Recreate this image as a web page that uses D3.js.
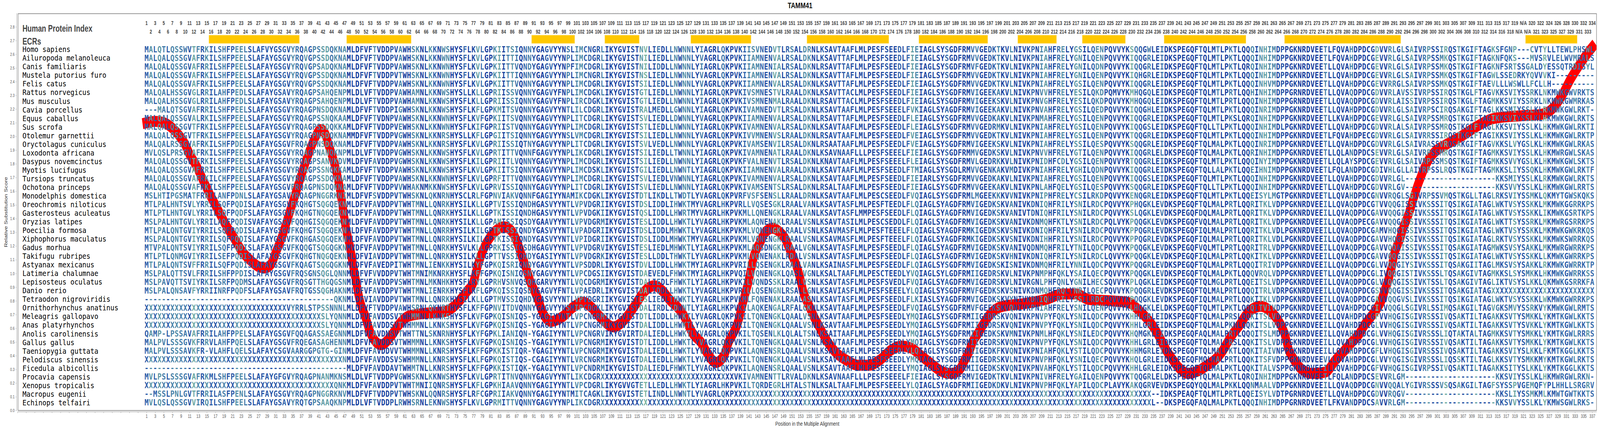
<!DOCTYPE html>
<html>
<head>
<meta charset="utf-8">
<script src="https://cdn.jsdelivr.net/npm/d3@7"></script>
<style>
  html, body { margin: 0; padding: 0; background: #fff; overflow: hidden; }
  #chart { display: block; width: 100vw; height: 100vh; }
  .axis text { font-family: "Liberation Sans", Arial, sans-serif; }
</style>
</head>
<body>
<svg id="chart" viewBox="0 0 5492 1100" preserveAspectRatio="none"></svg>
<script>
// Alignment of TAMM41 orthologs with relative substitution score overlay

const species = [
  "Homo sapiens", "Ailuropoda melanoleuca", "Canis familiaris", "Mustela putorius furo",
  "Felis catus", "Rattus norvegicus", "Mus musculus", "Cavia porcellus", "Equus caballus",
  "Sus scrofa", "Otolemur garnettii", "Oryctolagus cuniculus", "Loxodonta africana",
  "Dasypus novemcinctus", "Myotis lucifugus", "Tursiops truncatus", "Ochotona princeps",
  "Monodelphis domestica", "Oreochromis niloticus", "Gasterosteus aculeatus", "Oryzias latipes",
  "Poecilia formosa", "Xiphophorus maculatus", "Gadus morhua", "Takifugu rubripes",
  "Astyanax mexicanus", "Latimeria chalumnae", "Lepisosteus oculatus", "Danio rerio",
  "Tetraodon nigroviridis", "Ornithorhynchus anatinus", "Meleagris gallopavo",
  "Anas platyrhynchos", "Anolis carolinensis", "Gallus gallus", "Taeniopygia guttata",
  "Pelodiscus sinensis", "Ficedula albicollis", "Procavia capensis", "Xenopus tropicalis",
  "Macropus eugenii", "Echinops telfairi"
];

// alignment columns 1-41 (runs written as letter+count, e.g. X41)
const block1 = [
  "MALQTLQSSWVTFRKILSHFPEELSLAFVYGSGVYRQAGPS",
  "MALQALQSSGVAFRKILSHFPEELSLAFAYGSGVYRQVGPS",
  "MALQALQSSGVAFRRILSHFPEELSLAFAYGSGVYRQVGPS",
  "MALQALQSSGVAFRKILSHFPEELSLAFAYGSGVYRQVGPS",
  "MALQALQSSGVAFRKILSHFPEELSLAFAYGSGVYRQVGPS",
  "MALQALHSSGVGLRRILAHFPEDLSLAFAYGSAVYRQAGPS",
  "MALQALHSSGVGLRRILAHFPEDLSLAFAYGSAVYRQAGPS",
  "---MALQTSGVAFRRILSHFPEELSLAFAYGSGVYRQAGPN",
  "MALQALQSSGVALRKILSHFPEELSLAFAYGSGVYRQAGPS",
  "MALQALQSSGVTFRKILSHFPEELSLAFAYGSGVYRQAGPS",
  "MALQALQSSGVTFRKILSHFPEELSLAFAYGSGVYRQAGPN",
  "MALQALRSSGVAFRKILSHFPDELSLAFAYGSGVFRQAGPN",
  "MVLQSLPRSGVAFRKILSHFPEELSLAFAYGSGVYRQAGPN",
  "MALQALQSSGVTFRKILSHFPEELSLAFAYGSGVYRQAGPS",
  "MALQALQSSGVAFRRILSHFPEELSLAFAYGSGVYRQAGPS",
  "MALQALQSSGVAFRKILCHFPEELSLAFAYGSGVYRQAGPS",
  "MALQALQSSGVAFRKILSHFPEELSLAFAYGSGVFRQAGPN",
  "MSLHTIPGSMATFRRILANFPDNLSLAFAYGSAVYRQAGPN",
  "MTLPALHNTSVLYRRILSQFPQDISLAFAYGSGVFKQHGTS",
  "MTLPTLHNTGVLYRRILSQFPQDFSLAFAYGSGVFKQHGTN",
  "MSLPALHNTGVLYRRILAQFPQDISVAFAYGSGVFQQHGIS",
  "MTLPALQNTGVIYRRILSQFPQDISLAFAYGSGVFKQHGTS",
  "MSLPALQNTGVIYRRILSQFPQDISLAFAYGSGVFKQHGAS",
  "MTVPALQNTSVIYRRILSQFPQDISLAFAYGSGVFKQQGTS",
  "MTLPTLQNMGVIYRRILSEFPQDISLAFAYGSGVFKQHGTN",
  "MTLPALQNTSVFFRRILSQFPQDISLAFAYGSGVFKQAGTS",
  "MSLPALQTTSVLFRRILSHFPPDISLAFAYGSGVFRQSGNS",
  "MSLPAVQTTSVIYRKILSRFPQDMSLAFAYGSGVFRQSGTT",
  "MSLPALQNSAVFYRRIINRFPQDFSLAFAYGSAVFRQTGSS",
  "-41",
  "X33VYRRLSTP",
  "X41",
  "X41",
  "QAMP-LPSSAVAFRRILAHFPPELSLAFAYGSGVFQQAGAS",
  "MALPVLSSSGVKFRRVLAHFPQELSLAFAYGSGVFRQEGAS",
  "MALPVLSSSAVKFR-VLAHFLQELSLAFAYCSGVAARGGPG",
  "X41",
  "-41",
  "MVLPSLSSSGVAFRKMLSHFPEELSLAFAYGFGVYRQAGPN",
  "X41",
  "--MSSLPNLGVTFRRILASFPENLSLAFAYGSGVYRQAGPN",
  "MVLQSLQSSGVVIRQILSHFPEELSLAFAYGSAVYRQTGPS"
];

// columns 42-115
const block2 = [
  "SDQKNAMLDFVFTVDDPVAWHSKNLKKNWSHYSFLKVLGPKIITSIQNNYGAGVYYNSLIMCNGRLIKYGVIST",
  "SDQKNAMLDFVFTVDDPVAWHSKNLKKNWNHYSFLKVLGPKIITTIQNNYGAGVYYNPLIMCDGRLIKYGVIST",
  "ADQKNAMLDFVFTVDDPVAWHSKNLKKNWNHYSFLKVLGPKIITTVQNDYGAGVYYNPFIMCDGRLIKYGVIST",
  "SDQKNAMLDFVFTVDDPVTWHSKNLKKNWNHYSFLKVLGPKIITTIQNNYGAGVYYNPLIMCNGRLIKYGVIST",
  "SDQKNAMLDFVFTVDDPVAWHSKNLKKNWNHYSFLKVLGPKIITTVQNNYGAGVYYNPLIMCDGRLIKYGVIST",
  "AHQENPMLDLVFTVDDPVAWHAMNLKKNWSHYSLLKLLGPRIISSVQNNYGAGVYFNPLIMCDGKLIKYGVIST",
  "AHQENPMLDLVFTVDDPVAWHAMNLKKNWSHYSFLKLLGPRIISSIQNNYGAGVYFNPLIRCDGKLIKYGVIST",
  "SDQKNAMLDFVFTVDDPIGWHSKNLKKNWSHYSFLKFLGPKMITSVQNNYGAGVYYNTLILCDGRLIKYGVIST",
  "SNQKAAMLDFVFTVDNPVAWHSKNLKKNWNHYSFLKVFGPKIITSVQNNYGAGVYYNPLITCDGRLIKYGVIST",
  "SDQKKAMLDFVFTVDDPVEWHSKNLKKNWNHYSFLKIFGPRIISTVQNNYGAGVYYNPLIMCDGRLIKYGVIST",
  "SDQKNAMMDFVFTVDDPVGWHSKNLKKNRSHYSLLKFLGPGIITSIQNNYGAGVYYNSLVMCDGRLIKYGVIST",
  "SDQKNAMLDFVFTVDDPVAWHSKNLKKNRSHYSFLKVLGPRIISSIQTNYGAGVYYNPLITCDGRLIKYGVIST",
  "ANQKNPMLDLVFTVDDPVGWHSKNLKKNWSHYSFLKVLGPRTITTVQNNFGAGVYYNPLIKCDGRLIKYGVIST",
  "ANVKDVMLDFVFAVDDPVGWHSKNLKKNWSHYSFLKILGPRIITLVQNNYGAGVYYNPLIMCDGRLIKYGVIST",
  "SNQKKAMLDFVFTVDDPVAWHSKNLKKNWSHYSFLKVLGPKIITSIQNNYGAGVYYNPLIMCDSKLIKYGVIST",
  "SDQKNAMLDFVFTVDDPVAWHSKNLKKNWNHYSFLKVLGPRFITTVQNNYGAGVYYNPLIMCDGRLIKYGVIST",
  "SDQKNAMLDFVFTVDDPVVWHAKNMKKNWSHYSFLKVLGPRVISSIQNNYGAGVYYNPLITCDGRLIKYGVIST",
  "GGRKNIMLDFVFSVDDPVTWHSKNLQKNRNHYSCLRLFGPNVIAKVQNNFGAGIYYNAMIKCDGKLIKYGVIST",
  "QGQEKNMLDFVFAVDDPVTWHTMNLLQNRKHYSILKLLGPTVISSIQNDHGASVYYNTLVPVDGRIIKYGVIST",
  "QGQEKNMLDFVFAVDDPVTWHTMNLLQNRKHYSILKLLGPTKISSIQNDHGASVYYNTLVPVDGKIIKYGVIST",
  "QGQEKNMLDFVFAVDDPVTWHTMNLLQNRKHYSILKLLGPAMISSIQSDYGAAVYYNTLVPVDGRMIKYGVIST",
  "QGQEKNMLDFVFAVDDPVTWHTMNLLQNRRHYSILKILGPTKISSIQNDYGASVYYNTLVPADGRIIKYGVIST",
  "QGQEKNMLDFVFAVDDPVTWHTMNLLQNRRHYSILKILGPTKISSIQNDYGASVYYNTLVPIDGRIIKYGVIST",
  "QGQGKNMVDFVFAVDDPVTWHTMNLLQNRKHYSVLKLLGPRKISSIQSDHGAGVYYNTLVPVDGRVIKYGVIST",
  "QGQEKNMLDFVIAVDDPVTWHTMNLLQNRKHYSILKLLGPTTVSSIQHDYGASIYYNTLVPVDGRKIKYGVIST",
  "QGQGKNMLDFVFAVEDPITWHTMNLIENKKHYSILKYFGPKQISRIQNDYGAGVYYNTLVPSDDRLIKYGVIST",
  "QGLQNNMLDFVFVVDDPVTWHTMNIMKNRKHYSFLKFFGPKQISNIQSNYGAGVYYNTLVPCDGSIIKYGVIST",
  "HGQGSNMLDFVFAVDDPVSWHTMNLMKNHKHYSFLRYLGPRHVSNVQSQHGARVYYNTLVQCDGRMIKYGVIST",
  "QGHAKNMLDFVFAVDDPVTWHTMNLIENRKHYSFLRFLGPKQISSIQSDYGAGVYFNTLVPAEDRLIKYGVIST",
  "-3QKNMLDFVIAVDDPVTWHTMNLLQNRKHYSILKLLGPTMVSSIQHDYGASVYYNTLVPVDGRIIKYGVIST",
  "SSNNNLMLDFVFTVDDPVAWHSRNLQKNRTHYSFLKFFGPNVITDVQNNYGAGVYYNSMIPCDGKLIKYGVIST",
  "SLYQNNMLDFVFAVDDSVTWHMMNLLKNKSHYSFLKVFGPKQISNIQS-YGAGIYYNTLVPCNGRMIKYGVIST",
  "SLYQNNMLDFVFAVDDSVTWHMMNLLKNKSHYSFLKVFGPKQISNIQS-YGAGIYYNTLVPCNGRMIKYGVIST",
  "SAEGNNMLDFVFAVDNSVTWHTTNLSKNRNHYSFLKYFGPKLIANIQN-YGAGIYYNTLVPCNGRVIKYGVIRT",
  "AGHENNMLDFVFAVDDSVTWHMMNLLKNKSHYSFLKVFGPKQISNIQS-YGAGIYYNTLVPCNGRMIKYGVIST",
  "TG-GINMLDFVFAVDDVVTWHMMNLLKNRSHYSFLKFFGPKKISTIQR-YGAGIYYNTLVPCNGRMIKYGVIST",
  "X5NMLDFVFAVDDSVSWHMMNLLKNRSHYSFLKLFGPKQISTIQS-CGAGIYYNTLVRCNGRMIKYGVIGT",
  "-6MLDFVFAVDDAVTWHMTNLLKNRSHYSFLKFFGPKKISTIQK-YGAGIYYNTLVPCNDRMIKYGVIST",
  "ANMKNSMLDLVFTVDDPVGWHSKNLKKNWSHYSFLKVLGPRTITNVQNNYGAGVYYNTLIKCDGRX9",
  "X3QNKMLDFVFAVDDPVTWHTMNIIQNRSHYSFLKFLGPKHIAAVQNNYGAGIYYNTLVPCDGRLIKYGVVGT",
  "GGRKNVMLDFVFTVDDPVTWHSKNLQQNRSHYSFLRFCGPRIIAKVQNNYGAGIYYNTMITCAGKLIKYGVIST",
  "AAQKNPMLDLVFTVDDPLRWHSRNLEKNWSHYSFLKVLGPRMITTVQNNYGAGVYYNPLIKCDGRX9"
];

// columns 116-190
const block3 = [
  "NVLIEDLLNWNNLYIAGRLQKPVKIISVNEDVTLRSALDRNLKSAVTAAFLMLPESFSEEDLFIEIAGLSYSGDF",
  "NILIEDLLNWNNLYVAGRLQKPVKIIAMNENVALRSALDKNLKSAVTTAFLMLPESFSEEDLFIEIAGLSYSGDF",
  "NILIDDLLNWNNLYIAGRLQKPVKIIAMNENIALRSALDKNLRSAVTTAFLMLPESFSEEDLFIEIAGLSYSGDF",
  "NSLIEDLLNWNNLYVAGRLQKPVKIIAMNENVALRSALDKNLKSAVTTAFLMLPESFSEEDLFIEIAGLSYSGDF",
  "SILIEDLLNWNNLYVAGRLQKPVKIIAMNENVALRSALDKNLKSAVTTAFLMLPESFSEEDLFIEIAGLSYSGDF",
  "GTLIEDLLNWNNLYIAGRLQKPVKIVSMNESTVLRAALDKNLKSAVTTACLMLPESFSEEDLFIEIAGLSYSGDF",
  "GTLIEDLLNWNNLYIAGRLQKPVKIVSMNENMALRAALDKNLRSAVTTACLMLPESFSEEDLFIEIAGLSYSGDF",
  "RALMEDLLGWNNLYIAGRLQKPVKIVAMNEDVTLRSALDKNLKSAVTAAFLMLPESFSEEELFVKIAGLSYAGDF",
  "SVLIEDLLDWNNLYVAGRLQKPVKIIAMNENVALRSALDKNLRSAVTTAFLMLPESFSEEDLFLEIAGLSYSGDF",
  "STLIEDLLNWNNLYIAGRLQKPVKIVAMNENVALRSALDKNLKSAVTAAFLMLPESFSEEDLFLEIAGLSYSGDF",
  "SILIEDLLNWNNLYVAGRLQKPVKIVVMNENVSLRAALDKNLRSAVTAAFLMLPESFSEEDLFVEIAGLSYSGDF",
  "SVLVEDLLNWNNLYVAGRLQKPVKIVAMSENVILRSALDKNLRSAATAAFLMLPESFSEEDLFVEIAGLSYSGDF",
  "SILIEDLLTWNNLYIAGRLQKPVKIVAMNENATLRAALDKNLKSAVNAAFLLLPESFSEEELFIEIAGLSYSGDF",
  "SILIEDLLNWNNLYIAGRLQKPVKFVALNENVTLRSALDKNLKNAVTAAFLMLPESFSEEELFLEIAGLSYSGDF",
  "GILIEDLLNWNTLYIAGRLQKPVKIIAMNENVALRAALDKNLKSAVTAAFLMLPESFSEEDLFTMIAGLSYSGDL",
  "SVLIEDLVNWNNLYIAGRLQKPVKIVAMNENVALRSALDKNLKSAVTAAFLMLPESFSEEDLFIEIARLSYSGDF",
  "SVLIEDLLNWNNLYIAGRLQKPVKIVAMSENTSLRSALDKNLRSALTAAFLMLPESFSEEDLFIEIAGLSYSGDF",
  "DTLIKDLLTWDTLYVAGRLQKPVRFVSFSENSLLRAALDRNLKSAVTAAFLMLPESCSEEDLFVQIAGLSYSGDF",
  "DSLIDDLIHWKTMYVAGRLHKPVRLLVQSESGKLRAALVANLKSAVTASFLMLPESFTEEDLFLQIAGLSYAGDF",
  "QSLIDDLLHWRTMYVAGRLHKPVKMLLQNENGKLRAALVANLKSAVTASFLMMPESFSEEDLFLQIAGLSYAGDF",
  "ESLIDDLLHWKTLYVAGRLHKPVKMLAQNENAKLRAALVSNLKSAVTASILMLPESCSEDDLFLQIAGLSYAGDF",
  "DSLIDDLMHWKTLYVAGRLHKPVKMLVQNENGKLRAALVSNLKSAVMASFLMLPESFTEEELFLQIAGLSYAGDF",
  "DSLIDDLMHWKTMYVAGRLHKPVKMLVQNENGKLRAALVSNLKSAVMASFLMLPESFTEEELFLQIAGLSYAGDF",
  "ESLIEDLMHWKTLYIAGRLHKPVKMLAQSDNGKLRAALVGNLKSAVTASFLMLPESFSEEDLFLQIAGLSYAGDF",
  "ESLLDDLTHWKTLYVAGRLHKPVKMLVQNENAKLRDALVSNLKSAVTASFLMLPESFSEEDLFLQIAGLSYAGDF",
  "DVLIDDLLHWKTMYIAGRLHKPVRILLQSENGKLRAALVANLKSAINASFLMLPESFSEEDLFLQIAGLSYSGDF",
  "DAEVEDLFHWKTMYIAGRLHKPVQILVQNENGKLQASLVGNLKSALTAAFLMLPESCTEEDLYVQIAGLSYLGDF",
  "DALIEDLFHWKTLYIAGRLHKPVKILVQNDSSKLRAALVSNLKSAVTASFLMLPESFSVEDLFVQIAGLSYAGDF",
  "DALIDDLLHWKTLYVAGRLHKPVRILLQSENGNLRSALLGNLKSAVIASFLMLPESFSEEELYLQIAGLSYSGDF",
  "ESLIEDLTHWKTLYVAGRLHKPVKMLFQNENAKLRAALASNLKSAVTASFLMLPESFSEEDLFLKIASLSYAGDF",
  "DALIRDLIDWNTLYIAGRLHKPVKILAQKENGALRFALGKNLKSAVTAAFLMLPESFSEEDLFVQIAGLSYSGDF",
  "DTLIDDLLHWKTLYVAGRLQKPVKILTQNENGKLQAALVSNLKSAVTAAFLMLPESFSEEDLYMQIAGLSYSGDF",
  "DALIDDLLHWKTLYVAGRLQKPVKILTQNENGKLQAALVSNLKSAVTAAFLMLPESFSEEDLYMQIAGLSYSGDF",
  "DALIEDLLHWKTLYVAGRLQKPVKILTQSENLKLQLALTSNLKSAITAAFLMLPESFSEEDLYMQIAGLSYSGDF",
  "DTLIDDLLHWKTLYVAGRLQKPVKILTQNENGKLQAALVSNLKSAVTAAFLMLPESFSEEDLYMQIAGLSYSGDF",
  "DALIEDLLHWKTLYVAGRLQKPVKILAQNENSRLQAALVSNLKSAVTAAFLMLPESFSEEDLYLQIAGLSYSGDF",
  "DALIEDLLHWKTLYVAGRLQKPVKILTQNENGKLQAALVSNLKSAVTAAFLMLPESFSEEDLYMQIAGLSYSGDF",
  "DALIEDLFHWKTLYVAGRLQKPVKILAQNENSRLQAALVSNLKSAVTAAFLMLPESFSEEELYMQIAGLSYSGDF",
  "X22VKIVAMNENTTLRVALDKNLKSAVNAAFLLLPESFSEEELFIEIAGLSYSGDF",
  "ETLLEDLLHWKTLYIAGRLHKPVKILTQRDEGRLHTALSTNLKSALTAAFLMLPESFSEEELYLQIAGLSYAGDF",
  "ETLINDLLNWNTLYVAGRLQKPX53",
  "X75"
];

// columns 191-264
const block4 = [
  "RMVVGEDKTKVLNIVKPNIAHFRELYGSILQENPQVVYKSQQGWLEIDKSPEGQFTQLMTLPKTLQQQINHIMD",
  "RMVVGEDKTKVLNIVKPNIAHFRELYGNILQENPQVVYKIQQGRLEIDKSPEGQFTQLMTLPKTLQQQINHIMD",
  "RMVFGEDKTKVLNIVKPNIAHFRELYGNILQDNPQVVYKIQQGRLEIDKSPEGQFTQLMTLPKTLQRQINHIMD",
  "RMVVGEDKTKVLNIVKPNIAHFRELYGNILQENPQVVYKIQHGRLEIDKSPEGQFTQLMTLPKTLQQQINHIMD",
  "RMVVGEDKTKVLNIVKPNIAHFRELYGSILQENPQVVYKIQQGRLEIDKSPEGQFTQLMTLPKTLQQQINHVMD",
  "RMVIGEEKAKVLNIVKPNVVHFRELYESILQKDPQMVYKMHQGQLEIDKSPEGQFTQLMTLPRTLQQHINHIMD",
  "RMVIGEEKSKVLNIVKPNVGHFRELYESILQKDPQVVYKMHQGQLEIDKSPEGQFTQLMTLPRTLQQQINHIMD",
  "RMVIGEEKAKVLNIVKPNVAHFRELYGSILQEDPQVVYKIQQGHLEIDKSPEGQFTQLMTLPKTLQQQINRIMD",
  "RMVVGEDKAKVLNIVKPNMAHFRELYGSILQENPQVVYKIQQGRLEIDKSPEGQFTQLMTLPKSLQRQINHIMD",
  "RMVVGEDRMKVLNIVKPNIAHFRELYGSILQENPQVVYKIQQGSLEIDKSPEGQFTQLLTLPKTLQQQINHIMD",
  "RMVVGEDKTKVLNIVKPNIAHFRELYGSILQENPQVVYKTQQGRLEIDKSPEGQFTQLMTLPKTLQQQINHIMD",
  "RMVIGEEKSKVLNIVKPNIAHFRELYSSILQESPQVVYKSQQGRLEIDKSPEGQFTQLMALPKTLQQQINRIMD",
  "RMMVGEDKSKVLNIVKPNVVHFRELYGTILQENPQVVYKIQQGRLELDKSPEGQFTQLMALPKTLQQRINHIMD",
  "RMVLGEDRKKVLNIVKPNIDHFCDLYGSILQENPQVVYRTQQGRLEIDKSPEGQFTQLMTLPKTLQQQINYIMD",
  "RMVVGENKAKVMDIVKPNIAHFRELYGHILQDNPQVVYKIQQGRLEIDKSPEGQFTQLLALPKTLQQEIHNIMD",
  "RMVVGEDKAKVLNIVKPNIAHFRELYGSILQENPQVVYKIQQGSLEIDKSPEGQFTQLMTLPKTLQQQINHIMD",
  "RMVVGEEKAKVLNIVKPNLAHFQELYGSILQESPQVVYKSQQGRLEIDKSPEGQFTQLLTLPKTLQQQINHIMD",
  "RMLMGEEKKKVVNIVKPNIPHFRELYCSILRKDPQVVYKENQGRLEIDKSPEGQFTQLMTLPKTLQQEISYLMG",
  "RMVIGEDKSKVANIVKDNIQHFRILYSNILRDCPQVVYKPHQGKLEVDKSPEGQFTQLMALPRTLQQRITKLVD",
  "RMVIGEDKSKVANIVTDNIQHFRILYSNILRDCPQVVYKSLQGKLEVDKSPEGQFDQLMALPRTLQQRITKLVD",
  "RMVIGEDKSKVANIVKDNMQHFKTLYSNILRDCPQLVYKPQQGKLEVDKSPEGQFVQLMALPRTLQQRITKLVD",
  "RMKIGEDKSKVSNIVKDNIQHFRILYSNILRDCPQVVYKPPQGRLEVDKSPEGQFIQLMALPRTLQQRITKLVD",
  "RMKIGEDKSKVSNIVKDNIHHFRILYSNILRDCPQVVYKPPQGRLEVDKSPEGQFIQLMALPRTLQQRITKLVD",
  "RMVIGEDKSKVANIVQDNMQHFRILYTNILQDCPQVVYKPQQGKLEVDKSPEGQFVQLMTLPRTLQQRITRLVD",
  "RMVIGEDKSKVHNIVKDNIQHFRILYSNILRDCLQVVYKPQQGKLEVDKSPEGQFIQLMALPRTLQQKITKLVD",
  "RMVIGEDKSKISNIVKDNMQHFRILYNNILQDCPQVVYKPQQGRLEVDKSPEGQFTQLMALPRTLQQQITRIVD",
  "RMIIGEDRSKVLNIVKPNMPHFQKLYSAILQECPQVVYKPQQGKLEVDKSPEGQFTQLMALPKTLQQQVRQLVD",
  "RMVIGEDRSKVLNIVRGNLPHFQNLYGNILHECSQVVYKPLQGKLEIDKSPEGQFTQLMGLPRTLQQEITSLVD",
  "RMVFGEDKSKVSNIVKDNMQHFRQLYNRILQECPQVVYKPQQGRLEVDKSPEGQFTQLMALPRTLQQQITRLVD",
  "RMVIGEDKSKVYNIVKDNIQHFRILYSSILRDCPQVVYKPQQGKLEVDKSPEGQFIQLMALPRTLQQKITKLVD",
  "RMVFGEEKSKVQNIVKPNIAHFRELYSNILQENPQVVYKLHQGKLELDKSPEGQFTQLMTLPKTLQQQITVIVD",
  "RMIIGEDRSKVQNIVKPNVPYFQKLYSNILQDCPQVVYKHHLGRLEIDKSPEGQFTQLMALPRSLQQKITSLVD",
  "RMIIGEDRSKVQNIVKPNVPYFQKLYSNILQDCPQVVYKHHLGRLEIDKSPEGQFTQLMALPKNLQQKITSLVD",
  "RMIIGEDKSKVMNIVKPNMLHFQKLYSNILEDCPQVVYKHQMGKLEIDKSPEGQFAQLMALPRTLQQQITSLMD",
  "RMIIGEDRSKVQNIVKPNVPYFQKLYSNILQDCPQVVYKHHLGRLEIDKSPEGQFTQLMALPRSLQQKITSLVD",
  "RMIIGEDKFKVQNIVKPNIAHFQKLYSTILQDCPQVVYKHHMGRLEIDKSPEGQFTQLMALPKTLQQKITAIVN",
  "RMIIGEDRSKVLNIVKPNVPHFQKLYSNILQECPQVVYKHQLGRLEIDKSPEGQFMQLMALPRTLQQKITSFVD",
  "RMIIGEDKSKVQNIVKPNVAHFQKLYSTILQDCPQVVYKHHLGRLEIDKSPEGQFTQLMALPKTLQQKITALVS",
  "RMVIGEDKTKVLNIVKPNIVHFRELYGAILQENPQVVYKTQQGRLELDKSPEGQFTQLMALPKTLQRQINHIMD",
  "RMIIGEDKDKVLNIVKPNVPHFQKLYAPILQDCPLAVYKAKQGRVEVDKSPEGQYQQLMALPKKLQQNMAALVD",
  "X44--IDKSPEAQFTQLMTLPRTLQQEISYLVD",
  "X44L--DKSPEGQFAQLMALPKTLQQQINHIMD"
];

// columns 265-337
const block5 = [
  "PPGKNRDVEETLFQVAHDPDCGDVVRLGLSAIVRPSSIRQSTKGIFTAGKSFGNP---CVTYLLTEWLPHSWL",
  "PPGKNRDVEETLFQVAHDPDCGEVVRLGLSAIVRPSSMKQSTKGIFTAGKNFQKS---MVSRVLELWVMRALS",
  "PPGKNRDVEETLLQVAHDPDCGEVVRLGLSAIVRPSSMKQSTKGIFTAGKNFSRTSSGALDYESSQTRDISYL",
  "PPGKNRDVEETLLQVAHDPDCGEVVRLGLSAIVRPSSMKQSTKGIFTAGWLSSEDRKYQVVVKI-9",
  "PPGKNRDVEETLLQVAHDPDCGEVVRRGLSAIVRPSSMKQSTKGIFTAEVLLLWSWLLFCLLH-10",
  "PPGRNRDVEETLLQVAQDPDCGDVVRLAVSSIVRPSSIRQSTKGLFTAGVKKSVIYSSRKLNKMWKGWVRKTS",
  "PPGRNRDVEETLLQVAQDPDCGDVVRLAISSIVRPSSIRQSTKGLFTAGMKKSVIYSSRKLNKMWKGWMRKAS",
  "PPGKNRDVEETLLQVAHDPDCGDVVRLGLSAIVRPSCIRQSAKGIFTAGLKKSMIYSSLKLRKMWKGWLRKT-",
  "PPGKNRDVEETLLKVAHDPDCGEVVRLGLSAIVRPSSMRQSTKGIFTAGIKKSVIYSSLKLHKMWKGWLRKTS",
  "LPGKNRDVEETLLQVAHDPDCGDVVRLALSAIVRPSSMRQSTKGIFTAGLKKSVIYSSLKLHKMWKGWLRKTI",
  "PPGKNRDVEETLFQVAHDPECGDVVRLGLSAIVRRSSIRQSTKGIFTAGIKKSVIYSSLKLHKMWKGWLRKTP",
  "PPGKNRDVEETLLQVAHDPDCGDVVRLGLSAIVRASSVRQSAKGIFTAGVKKSLVYGSLKLHKMWKGWLRKAS",
  "PPGKNRDVEETLLQLANDPDCSEVVRLGLSAIVRPSSMRQSTKGIFTAGMKKSVIYSSLKLHKMWRGWLSKAS",
  "PPGKNRDVEETLLQLAYSPDCGEVVRLGLSAIVRPSSMSQSTKGIFTAGMKKSVVYGSLKLHKMWKGWLSKTS",
  "PPGKNRDVEETLFQLANDPDCGDIVHLGLLAIVRPSSLRQSTKGIFTAGMKKSLIYSSQKLHKMWKGWLRKTF",
  "PPGKNRDVEETLLQVAHDPDCGDVVRLGL-21KKSMIYSSLKLRKMWKGWLRKTS",
  "PPGKNRDVEETLLQVAHDPDCGDVVRLGV-21KKSVVYSSLKLHKMWKGWLRRTS",
  "TPGKNRDVEETLLQVAHDPDCGNVVRQGLSGIVRPSSVMQSTKGLLTAGLRKSVIYSSMKLQKMYTGWSKQKS",
  "PPGKNRDVEEILLQVAQDPDCGTVVQQGISSIVKSSSITQSIKGIATAGLWKTVSYSSKKLMKMWKGGRRKPS",
  "PPGKNRDVEEILLQVAQDPDCGAVVQQGISSIVKSSSITQSIKGIATAGLWKTVSYSSKKLIKMWKGSRTKPS",
  "PPGKNRDVEEILLQVAQDPECGAVVQQGISSIVKSSSITQSIKGIATAGLWKTTSYSSRKLMKMWRGSRRKPS",
  "LPGKNRDVEEILLQVAQDPDCGAMVHQGISSIVKSSSITQSIKGIATAGLWKTVSYSSKKLMKMWKGWKRKQS",
  "LPGKNRDVEEILLQVAQDPDCGAVVHQGISSIVKSSSITQSIKGIATAGLRKTVSYSSKKLMKMWKSWRRKQS",
  "PPGKNRDVEEILLQVAQDPDCGAVVQQAISSIVKSSSITQSAKGIATAGMWKSVSYSAKKLMKMWRGWRRKPS",
  "PPGKNRDVEEILLQVAQDPDCGAVVQQGISSIVKSSSITQSIKGIATAGLWKTVSYSSKKLLKMWKGWRRKPS",
  "PPGKNRDVEEILLQVAQDPDCGLVVQQGIYSIVKSSSITQSAKGIITAGLMKSVSYSAKKLRKMWKGWRRKTP",
  "PPGKNRDVEETLLQVAQDPDCGLIVQQGISTIVKSSSLTQSAKGIVTAGMKKSLSYSMKKLHKMWKGWRRKSS",
  "PPGKNRDVEEILLQVAQDPDCGLVVQQGISSIVKTSSLTQSAKGIVTAGLIKTVSYSLKKLQKMWKGSRRKFA",
  "RPGKNRDVEEILLQVAQDPDCGSVVQQGISSIVKSSSITQSAKGIATAGX24",
  "PPGKNRDVEEILLQVAQDPDCGAVVQQGVSLIVKSSSITQSIKGIATAGLWKTVSYSSKKLWKMWKGWRRKPS",
  "PPGKNRDVEETLLQVAHDPDCGILVQQGLSGIVRLSSIMQSAKGILTAGVGKSMVYSSRKVYKMWKGWLRMTS",
  "PPGKNRDVEEILLQVAHDPDCGFVVHQGISGIVRSSSIVQSAKTILTAGAKKSVTYSMKKLYKMTKGWLKKTS",
  "PPGKNRDVEEILLQVAHDPDCGLVVHQGISGIVRSSSIVQSAKTILTAGAKKSVTYSVKKLYKMTKGWLKKTS",
  "PPGKNRDVEEILLQVAHDPDCGLVVHQGISGIVRSSSLIQTAKTALTAGMKKSVTYSMKKLYKMTKGWLRRRS",
  "PPGKNRDVEEILLQVAHDPDCGLVVHQGISGIVRSSSIVQSAKTILTAGAKKSVTYSMKKLYKMTKGWLKKTS",
  "PPGKNRDVEEILLQVAHDPDCGFLVHQGISGIVRSSSIVQSAKTILTAGAKKSVIYSLKKLFKMTKGGLKKTS",
  "PPGKNRDVEEVLLQVAHDPDCGLVVYQGISGIVRSSSLIQSSKTILTAGLKKSVTYSMKKMYKMTKGWLRKTS",
  "PPGKNRDVEEILLQVAHDPDCGFVVHQGISGIVRPSSIVQSAKTILTAGAKKSITYSLKKLYKMTKGGLKKTS",
  "PPGKNRDVEETLFQLANDPDCSEVVRLGM-21KKSVIYSSLKLHKMWRGWLRKN-",
  "PPGKNRDVEEILLQVAQDPDCGNVVQQALYGIVRSSSVSQSAKGILTAGFSYSSPVGEMQFYPLHHLLSRGRV",
  "TPGRNRDVEETLLQVAHDPDCGDVVRQGV-21KKSLIYSSMKMLKMWTGWTKKTS",
  "PPGRNRDVEETLFKVANDPDCSAVVRLGM-21KKSVVYSSLKLYKMWSGWLRKS-"
];

// evolutionarily conserved regions, alignment columns
const ecrStart = [16, 48, 91, 108, 128, 155, 181, 204, 219, 238, 266, 322];
const ecrEnd   = [36, 62, 100, 115, 141, 173, 196, 212, 228, 256, 292, 333];

// relative substitution score read along the alignment
const scorePos = [1, 3, 5, 7, 8.5, 10, 11, 12.5, 14, 15.5, 17.5, 19.5, 21.5, 23, 25, 27, 28.5, 30, 31, 32.5,
  34, 35.5, 37, 38.5, 40, 41.5, 42.5, 43.3, 44.5, 45.5, 46.2, 46.8, 47.4, 48.3, 49, 49.7, 50.5, 51.8, 53, 55.5,
  58, 59.5, 62, 66, 70, 72.5, 74, 75.5, 77, 78, 79.5, 81, 82.5, 84, 85.5, 87, 88.2, 89, 89.6, 90.2,
  91.2, 92, 93, 95, 97.5, 100, 102.5, 104.5, 106.5, 109.5, 112, 113.5, 115, 116.5, 119, 121, 122.5, 124.5, 126, 127,
  128, 129.8, 131.5, 133.3, 135.2, 136.3, 137.3, 138.2, 138.8, 139.3, 139.8, 140.3, 140.9, 141.5, 142.2, 143.5, 144.8, 146.5, 148.2, 149.5,
  150.3, 151.1, 152, 152.6, 153.1, 153.6, 154.3, 155.2, 156.1, 157.2, 158.2, 159.3, 161, 163.5, 166.5, 169, 171.5, 174, 176.5, 179,
  181, 183, 185.5, 188, 190, 191.2, 192.2, 193, 194.2, 195.3, 197, 200, 205, 210, 214, 217, 220, 225, 229, 232,
  234.8, 236, 237, 238.2, 239.5, 241, 243, 245.5, 247.5, 249.3, 251, 252.3, 253.5, 255, 256.3, 258, 260, 262, 263.5, 264.7,
  265.5, 266.5, 267.7, 269.5, 272, 275, 277.4, 279.2, 281.2, 282.9, 284, 285.6, 287.1, 288.1, 288.7, 289.5, 290, 290.5, 290.9, 291.5,
  292.3, 292.9, 293.7, 294.4, 295, 295.7, 296.3, 297, 297.8, 298.8, 300.2, 303, 306.5, 310, 314, 320, 325, 328, 330, 332,
  334, 336, 337];
const scoreVal = [2.10, 2.11, 2.10, 2.06, 2.01, 1.94, 1.87, 1.79, 1.69, 1.59, 1.47, 1.35, 1.25, 1.17, 1.10, 1.05, 1.04, 1.07, 1.15, 1.27,
  1.42, 1.57, 1.72, 1.86, 1.98, 2.05, 2.02, 1.94, 1.82, 1.69, 1.57, 1.44, 1.32, 1.19, 1.06, 0.94, 0.81, 0.69, 0.57, 0.48,
  0.55, 0.62, 0.69, 0.71, 0.72, 0.76, 0.81, 0.87, 0.94, 1.06, 1.19, 1.27, 1.32, 1.34, 1.32, 1.24, 1.13, 1.06, 1.00, 0.94,
  0.87, 0.81, 0.72, 0.65, 0.68, 0.75, 0.79, 0.75, 0.68, 0.61, 0.66, 0.72, 0.79, 0.86, 0.91, 0.87, 0.81, 0.75, 0.685, 0.62,
  0.56, 0.50, 0.41, 0.35, 0.40, 0.50, 0.56, 0.62, 0.685, 0.75, 0.81, 0.87, 0.94, 1.03, 1.13, 1.22, 1.30, 1.33, 1.30, 1.25,
  1.19, 1.13, 1.06, 1.00, 0.94, 0.87, 0.81, 0.75, 0.685, 0.62, 0.56, 0.50, 0.43, 0.37, 0.33, 0.33, 0.37, 0.44, 0.47, 0.45,
  0.40, 0.35, 0.29, 0.27, 0.30, 0.37, 0.43, 0.50, 0.56, 0.62, 0.70, 0.76, 0.78, 0.81, 0.85, 0.85, 0.81, 0.80, 0.79, 0.72,
  0.62, 0.56, 0.50, 0.43, 0.37, 0.31, 0.27, 0.29, 0.33, 0.37, 0.43, 0.50, 0.56, 0.62, 0.685, 0.74, 0.76, 0.73, 0.68, 0.62,
  0.56, 0.44, 0.37, 0.30, 0.27, 0.28, 0.37, 0.43, 0.50, 0.56, 0.62, 0.685, 0.75, 0.81, 0.87, 0.94, 1.00, 1.06, 1.13, 1.19,
  1.25, 1.315, 1.38, 1.44, 1.50, 1.57, 1.63, 1.69, 1.755, 1.82, 1.88, 1.94, 2.00, 2.07, 2.13, 2.15, 2.16, 2.21, 2.30, 2.42,
  2.52, 2.61, 2.65];

const yTicks = [0.0, 0.1, 0.2, 0.3, 0.4, 0.5, 0.6, 0.7, 0.8, 0.9, 1.0, 1.1, 1.2, 1.3, 1.4,
  1.5, 1.6, 1.7, 1.8, 1.9, 2.0, 2.1, 2.2, 2.3, 2.4, 2.5, 2.6, 2.7, 2.8];

const blocks = [block1, block2, block3, block4, block5];
const blockLen = [41, 74, 75, 74, 73];

// expand runs like X41 / -21 and force each block to its column count
function expand(s) {
    return s.replace(/([A-Z\-])(\d+)/g, (m, c, n) => c.repeat(+n));
}
function fit(s, n) {
    s = expand(s);
    if (s.length !== n) console.warn('block length', s.length, n, s);
    return s.length >= n ? s.slice(0, n) : s + '-'.repeat(n - s.length);
}

const seqs = species.map((sp, i) => blocks.map((b, k) => fit(b[i], blockLen[k])).join(''));
const nCol = seqs[0].length;

// human protein index per alignment column
let hIdx = 0;
const humanIndex = seqs[0].split('').map(ch => ch === '-' ? 'N/A' : String(++hIdx));

// conservation per column: share of the most common residue
const cons = d3.range(nCol).map(c => {
    const col = seqs.map(s => s[c]).filter(ch => ch !== '-' && ch !== 'X');
    const counts = d3.rollup(col, v => v.length, d => d);
    return (d3.max(Array.from(counts.values())) || 0) / seqs.length;
});

const color = d3.scaleLinear()
    .domain([0.1, 0.3, 0.5, 0.7, 0.9, 1.0])
    .range(['#9ccfa0', '#6aa8a2', '#4a86a8', '#3366ac', '#1d4aa2', '#123a9c'])
    .clamp(true);

const width = 5492, height = 1100;
const frame = { left: 62, right: 5480, top: 35, bottom: 1050 };

const svg = d3.select('#chart');

const x = d3.scaleLinear().domain([-29, 338]).range([60, 5480]);
const y = d3.scaleLinear().domain([0, 2.9]).range([1050, 1050 - 2.9 * 350.5]);
const rowY = d3.scalePoint().domain(species).range([126.3, 1029.8]);
const colW = x(2) - x(1);

// clip to the plot frame
svg.append('defs').append('clipPath').attr('id', 'plot-clip')
    .append('rect')
    .attr('x', frame.left).attr('y', frame.top)
    .attr('width', frame.right - frame.left)
    .attr('height', frame.bottom - frame.top);

// Title
svg.append('text')
    .attr('x', width / 2).attr('y', 21)
    .attr('text-anchor', 'middle')
    .style('font-family', '"Liberation Sans", Arial, sans-serif')
    .style('font-weight', 'bold')
    .style('font-size', '21px')
    .attr('fill', '#111')
    .text('TAMM41');

// Axes
const yAxis = svg.append('g')
    .attr('class', 'axis')
    .attr('transform', 'translate(57,0)')
    .call(d3.axisLeft(y).tickValues(yTicks).tickFormat(d3.format('.1f')).tickSize(4).tickSizeOuter(0));

const xAxis = svg.append('g')
    .attr('class', 'axis')
    .attr('transform', 'translate(0,1053)')
    .call(d3.axisBottom(x)
        .tickValues(d3.range(-29, 338, 2))
        .tickFormat(d => d > 0 ? d : '')
        .tickSize(4).tickSizeOuter(0));

[yAxis, xAxis].forEach(a => {
    a.select('.domain').attr('stroke', '#b0b0b0').attr('stroke-width', 1.5);
    a.selectAll('.tick line').attr('stroke', '#b0b0b0');
    a.selectAll('.tick text').attr('fill', '#555');
});
yAxis.selectAll('.tick text').style('font-size', '11px');
xAxis.selectAll('.tick text').style('font-size', '12px');

svg.append('text')
    .attr('x', (frame.left + frame.right) / 2).attr('y', 1089)
    .attr('text-anchor', 'middle')
    .style('font-family', '"Liberation Sans", Arial, sans-serif')
    .style('font-size', '15px')
    .attr('fill', '#333')
    .text('Position in the Multiple Alignment');

svg.append('text')
    .attr('transform', `translate(20,${(frame.top + frame.bottom) / 2}) rotate(-90)`)
    .attr('text-anchor', 'middle')
    .attr('dy', '0.35em')
    .style('font-family', '"Liberation Sans", Arial, sans-serif')
    .style('font-size', '15px')
    .attr('fill', '#333')
    .text('Relative Substitution Score');

// Frame
svg.append('rect')
    .attr('x', frame.left).attr('y', frame.top)
    .attr('width', frame.right - frame.left)
    .attr('height', frame.bottom - frame.top)
    .attr('fill', 'none')
    .attr('stroke', '#777')
    .attr('stroke-width', 1.5);

// Headers
const headerFont = '"Liberation Sans", Arial, sans-serif';
svg.append('text').attr('x', 77).attr('y', 81)
    .style('font-family', headerFont).style('font-weight', 'bold').style('font-size', '24px')
    .attr('fill', '#444').text('Human Protein Index');
svg.append('text').attr('x', 77).attr('y', 114)
    .style('font-family', headerFont).style('font-weight', 'bold').style('font-size', '24px')
    .attr('fill', '#444').text('ECRs');

// Human protein index labels, odd columns on the upper line
svg.append('g').selectAll('text')
    .data(humanIndex.map((label, i) => ({ col: i + 1, label })))
    .join('text')
    .attr('x', d => x(d.col))
    .attr('y', d => d.col % 2 === 1 ? 64.5 : 86.5)
    .attr('text-anchor', 'middle')
    .style('font-family', headerFont)
    .style('font-weight', 'bold')
    .style('font-size', '14px')
    .attr('fill', '#444')
    .text(d => d.label);

// ECR bars
svg.append('g').selectAll('rect')
    .data(ecrStart.map((s, i) => ({ s, e: ecrEnd[i] })))
    .join('rect')
    .attr('x', d => x(d.s) - colW / 2)
    .attr('width', d => x(d.e) - x(d.s) + colW)
    .attr('y', 90)
    .attr('height', 21)
    .attr('fill', '#ffc800')
    .attr('stroke', '#ffe070')
    .attr('stroke-width', 1);

// Species names
svg.append('g').selectAll('text')
    .data(species)
    .join('text')
    .attr('transform', d => `translate(77,${rowY(d) + 7}) scale(1.14,1)`)
    .style('font-family', '"DejaVu Sans Mono", monospace')
    .style('font-size', '20px')
    .attr('fill', '#000')
    .text(d => d);

// Score line (drawn under the residues)
const scorePts = scorePos.map((p, i) => [p, scoreVal[i]]);
svg.append('path')
    .datum(scorePts)
    .attr('clip-path', 'url(#plot-clip)')
    .attr('d', d3.line().x(d => x(d[0])).y(d => y(d[1])).curve(d3.curveMonotoneX))
    .attr('fill', 'none')
    .attr('stroke', '#ff0000')
    .attr('stroke-width', 28)
    .attr('stroke-linecap', 'square')
    .attr('stroke-linejoin', 'round');

// Residues
const cells = [];
seqs.forEach((s, r) => {
    for (let c = 0; c < s.length; c++) cells.push({ r, c, ch: s[c] });
});

svg.append('g')
    .style('font-family', '"DejaVu Sans Mono", monospace')
    .style('font-weight', 'bold')
    .style('font-size', '21px')
    .selectAll('text')
    .data(cells)
    .join('text')
    .attr('transform', d => `translate(${x(d.c + 1)},${rowY(species[d.r]) + 7.5}) scale(1.12,1)`)
    .attr('text-anchor', 'middle')
    .attr('fill', d => color(cons[d.c]))
    .text(d => d.ch);
</script>
</body>
</html>
